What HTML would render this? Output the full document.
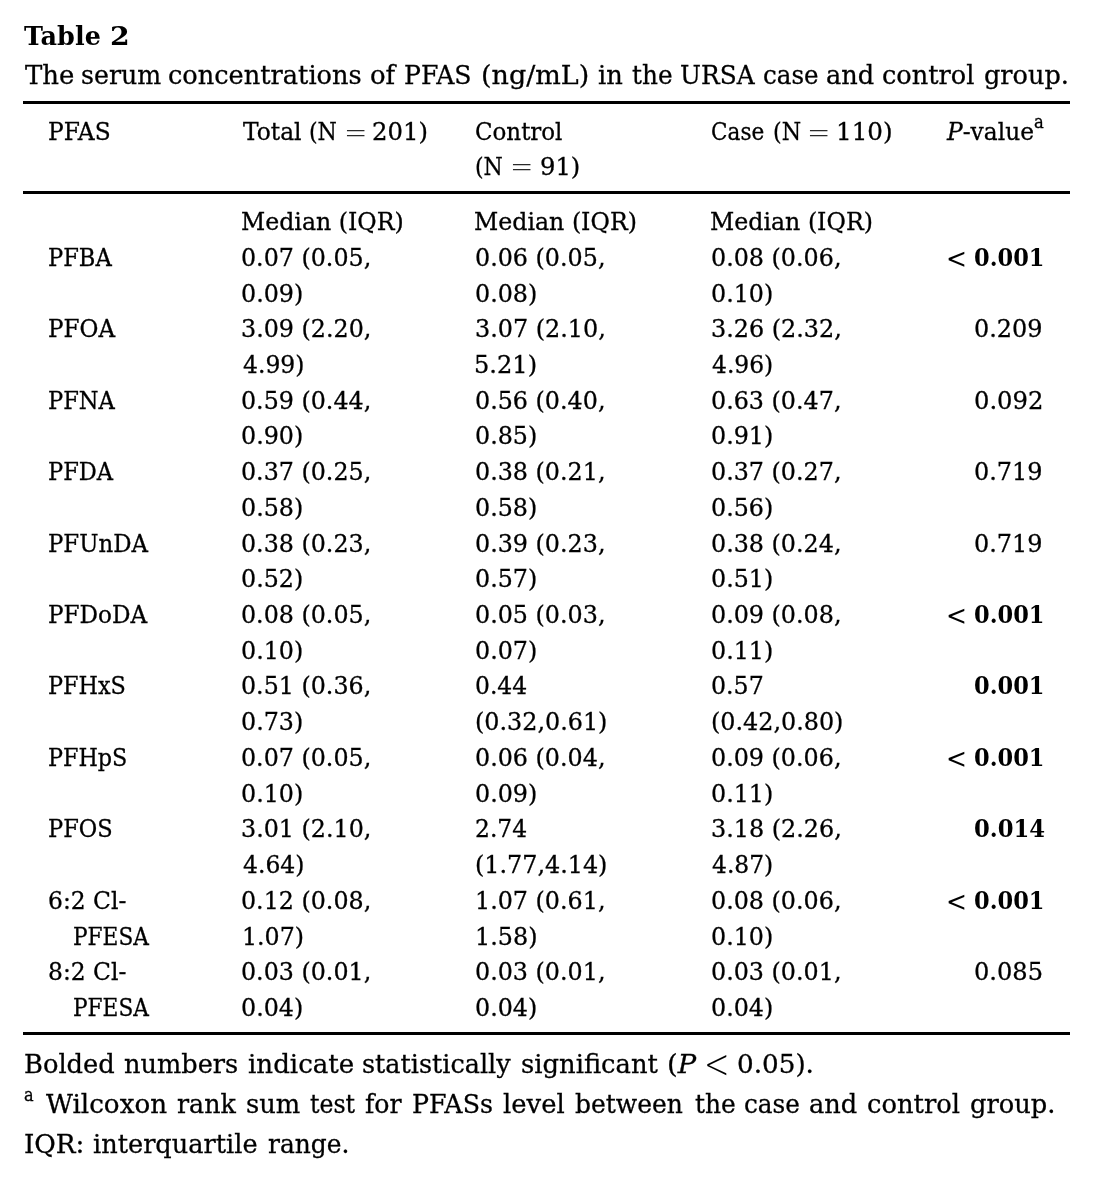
<!DOCTYPE html>
<html lang="en">
<head>
<meta charset="utf-8">
<title>Table 2</title>
<style>
html,body{margin:0;padding:0;background:#fff;}
body{width:1096px;height:1186px;position:relative;overflow:hidden;color:#000;font-family:"DejaVu Serif", "Liberation Serif", serif;}
h1,p,table,figure,figcaption{margin:0;padding:0;font:inherit;}
table{border-collapse:collapse;border-spacing:0;position:absolute;left:0;top:0;}
th,td{padding:0;font-weight:normal;}
.t{position:absolute;white-space:nowrap;line-height:1;transform-origin:0 0;font-weight:normal;font-style:normal;-webkit-text-stroke:0.3px #000;}
.t i{font-style:italic;}
.b{font-weight:bold;-webkit-text-stroke:0;}
.lt{-webkit-text-stroke:0;}
.eq{font-family:"DejaVu Sans","Liberation Sans",sans-serif;font-weight:200;-webkit-text-stroke:0;}
.eqs{color:#2a2a2a;}
.rule{position:absolute;left:23px;width:1047px;background:#000;}
</style>
</head>
<body>
<figure>
<figcaption>
<h1><span class="t b" id="t0" style="font-size:26.8px;left:24.36px;top:22.58px;transform:scaleX(0.9525);">Table</span> <span class="t b" id="t1" style="font-size:26.8px;left:110.45px;top:22.58px;transform:scaleX(1.0563);">2</span></h1>
<p><span class="t" id="t2" style="font-size:26.2px;left:24.72px;top:62.08px;transform:scaleX(0.9909);">The</span> <span class="t" id="t3" style="font-size:26.2px;left:80.69px;top:62.08px;transform:scaleX(0.9640);">serum</span> <span class="t" id="t4" style="font-size:26.2px;left:168.18px;top:62.08px;transform:scaleX(0.9782);">concentrations</span> <span class="t" id="t5" style="font-size:26.2px;left:370.30px;top:62.08px;transform:scaleX(0.9891);">of</span> <span class="t" id="t6" style="font-size:26.2px;left:404.30px;top:62.08px;transform:scaleX(0.9595);">PFAS</span> <span class="t" id="t7" style="font-size:26.2px;left:480.90px;top:62.08px;transform:scaleX(1.0298);">(ng/mL)</span> <span class="t" id="t8" style="font-size:26.2px;left:597.80px;top:62.08px;transform:scaleX(0.9835);">in</span> <span class="t" id="t9" style="font-size:26.2px;left:631.80px;top:62.08px;transform:scaleX(0.9459);">the</span> <span class="t" id="t10" style="font-size:26.2px;left:680.34px;top:62.08px;transform:scaleX(0.9487);">URSA</span> <span class="t" id="t11" style="font-size:26.2px;left:763.18px;top:62.08px;transform:scaleX(0.9372);">case</span> <span class="t" id="t12" style="font-size:26.2px;left:826.23px;top:62.08px;transform:scaleX(0.9785);">and</span> <span class="t" id="t13" style="font-size:26.2px;left:882.18px;top:62.08px;transform:scaleX(0.9771);">control</span> <span class="t" id="t14" style="font-size:26.2px;left:984.30px;top:62.08px;transform:scaleX(0.9762);">group.</span></p>
</figcaption>
<div class="rule" style="top:101px;height:3px"></div>
<table>
<thead>
<tr>
<th><span class="t" id="t15" style="font-size:24px;left:48.33px;top:120.15px;transform:scaleX(0.9716);">PFAS</span></th>
<th><span class="t" id="t16" style="font-size:24px;left:242.74px;top:120.15px;transform:scaleX(0.9726);">Total</span> <span class="t" id="t17" style="font-size:24px;left:308.79px;top:120.15px;transform:scaleX(0.9206);">(N</span> <span class="t eq eqs" id="t18" style="font-size:28px;left:344.00px;top:116.96px;transform:scale(0.9980,1.1830);">=</span> <span class="t" id="t19" style="font-size:24px;left:372.41px;top:120.15px;transform:scaleX(1.0135);">201)</span></th>
<th><span class="t" id="t20" style="font-size:24px;left:475.30px;top:120.15px;transform:scaleX(0.9556);">Control</span> <span class="t" id="t21" style="font-size:24px;left:475.41px;top:154.65px;transform:scaleX(0.9184);">(N</span> <span class="t eq eqs" id="t22" style="font-size:28px;left:510.25px;top:151.46px;transform:scale(0.9980,1.1830);">=</span> <span class="t" id="t23" style="font-size:24px;left:539.52px;top:154.65px;transform:scaleX(1.0085);">91)</span></th>
<th><span class="t" id="t24" style="font-size:24px;left:711.30px;top:120.15px;transform:scaleX(0.8998);">Case</span> <span class="t" id="t25" style="font-size:24px;left:772.60px;top:120.15px;transform:scaleX(0.9236);">(N</span> <span class="t eq eqs" id="t26" style="font-size:28px;left:807.00px;top:116.96px;transform:scale(0.9980,1.1830);">=</span> <span class="t" id="t27" style="font-size:24px;left:836.13px;top:120.15px;transform:scaleX(1.0269);">110)</span></th>
<th><span class="t" id="t28" style="font-size:24px;left:946.84px;top:120.15px;transform:scaleX(0.9720);"><i>P</i>-value</span><sup class="t" id="t29" style="font-size:18.3px;left:1034.42px;top:113.47px;transform:scaleX(0.8989);">a</sup></th>
</tr>
</thead>
<tbody>
<tr>
<td></td>
<td><span class="t" id="t30" style="font-size:24px;left:241.30px;top:210.05px;transform:scaleX(0.9856);">Median (IQR)</span></td>
<td><span class="t" id="t31" style="font-size:24px;left:474.44px;top:210.05px;transform:scaleX(0.9866);">Median (IQR)</span></td>
<td><span class="t" id="t32" style="font-size:24px;left:710.44px;top:210.05px;transform:scaleX(0.9866);">Median (IQR)</span></td>
<td></td>
</tr>
<tr>
<td><span class="t" id="t33" style="font-size:24px;left:48.33px;top:245.85px;transform:scaleX(0.9410);">PFBA</span></td>
<td><span class="t" id="t34" style="font-size:24px;left:241.12px;top:245.85px;transform:scaleX(0.9903);">0.07 (0.05,</span> <span class="t" id="t35" style="font-size:24px;left:241.12px;top:281.57px;transform:scaleX(0.9913);">0.09)</span></td>
<td><span class="t" id="t36" style="font-size:24px;left:474.91px;top:245.85px;transform:scaleX(0.9920);">0.06 (0.05,</span> <span class="t" id="t37" style="font-size:24px;left:474.92px;top:281.57px;transform:scaleX(0.9913);">0.08)</span></td>
<td><span class="t" id="t38" style="font-size:24px;left:710.91px;top:245.85px;transform:scaleX(0.9920);">0.08 (0.06,</span> <span class="t" id="t39" style="font-size:24px;left:710.92px;top:281.57px;transform:scaleX(0.9913);">0.10)</span></td>
<td><span class="t lt" id="t40" style="font-size:24px;left:945.97px;top:245.05px;transform:scale(1.0426,1.1702);">&lt;</span> <b class="t b" id="t41" style="font-size:24px;left:973.54px;top:245.85px;transform:scaleX(0.9373);">0.001</b></td>
</tr>
<tr>
<td><span class="t" id="t42" style="font-size:24px;left:48.33px;top:317.29px;transform:scaleX(0.9603);">PFOA</span></td>
<td><span class="t" id="t43" style="font-size:24px;left:241.20px;top:317.29px;transform:scaleX(0.9912);">3.09 (2.20,</span> <span class="t" id="t44" style="font-size:24px;left:242.53px;top:353.01px;transform:scaleX(0.9776);">4.99)</span></td>
<td><span class="t" id="t45" style="font-size:24px;left:474.85px;top:317.29px;transform:scaleX(0.9947);">3.07 (2.10,</span> <span class="t" id="t46" style="font-size:24px;left:474.14px;top:353.01px;transform:scaleX(1.0038);">5.21)</span></td>
<td><span class="t" id="t47" style="font-size:24px;left:710.85px;top:317.29px;transform:scaleX(0.9947);">3.26 (2.32,</span> <span class="t" id="t48" style="font-size:24px;left:711.54px;top:353.01px;transform:scaleX(0.9754);">4.96)</span></td>
<td><span class="t" id="t49" style="font-size:24px;left:973.86px;top:317.29px;transform:scaleX(0.9966);">0.209</span></td>
</tr>
<tr>
<td><span class="t" id="t50" style="font-size:24px;left:48.33px;top:388.73px;transform:scaleX(0.9407);">PFNA</span></td>
<td><span class="t" id="t51" style="font-size:24px;left:241.12px;top:388.73px;transform:scaleX(0.9903);">0.59 (0.44,</span> <span class="t" id="t52" style="font-size:24px;left:241.12px;top:424.45px;transform:scaleX(0.9913);">0.90)</span></td>
<td><span class="t" id="t53" style="font-size:24px;left:474.91px;top:388.73px;transform:scaleX(0.9920);">0.56 (0.40,</span> <span class="t" id="t54" style="font-size:24px;left:474.92px;top:424.45px;transform:scaleX(0.9913);">0.85)</span></td>
<td><span class="t" id="t55" style="font-size:24px;left:710.91px;top:388.73px;transform:scaleX(0.9920);">0.63 (0.47,</span> <span class="t" id="t56" style="font-size:24px;left:710.92px;top:424.45px;transform:scaleX(0.9913);">0.91)</span></td>
<td><span class="t" id="t57" style="font-size:24px;left:973.74px;top:388.73px;transform:scaleX(1.0093);">0.092</span></td>
</tr>
<tr>
<td><span class="t" id="t58" style="font-size:24px;left:48.33px;top:460.17px;transform:scaleX(0.9390);">PFDA</span></td>
<td><span class="t" id="t59" style="font-size:24px;left:241.12px;top:460.17px;transform:scaleX(0.9903);">0.37 (0.25,</span> <span class="t" id="t60" style="font-size:24px;left:241.12px;top:495.89px;transform:scaleX(0.9913);">0.58)</span></td>
<td><span class="t" id="t61" style="font-size:24px;left:474.91px;top:460.17px;transform:scaleX(0.9920);">0.38 (0.21,</span> <span class="t" id="t62" style="font-size:24px;left:474.92px;top:495.89px;transform:scaleX(0.9913);">0.58)</span></td>
<td><span class="t" id="t63" style="font-size:24px;left:710.91px;top:460.17px;transform:scaleX(0.9920);">0.37 (0.27,</span> <span class="t" id="t64" style="font-size:24px;left:710.92px;top:495.89px;transform:scaleX(0.9913);">0.56)</span></td>
<td><span class="t" id="t65" style="font-size:24px;left:973.86px;top:460.17px;transform:scaleX(0.9966);">0.719</span></td>
</tr>
<tr>
<td><span class="t" id="t66" style="font-size:24px;left:48.33px;top:531.61px;transform:scaleX(0.9520);">PFUnDA</span></td>
<td><span class="t" id="t67" style="font-size:24px;left:241.12px;top:531.61px;transform:scaleX(0.9903);">0.38 (0.23,</span> <span class="t" id="t68" style="font-size:24px;left:241.12px;top:567.33px;transform:scaleX(0.9913);">0.52)</span></td>
<td><span class="t" id="t69" style="font-size:24px;left:474.91px;top:531.61px;transform:scaleX(0.9920);">0.39 (0.23,</span> <span class="t" id="t70" style="font-size:24px;left:474.92px;top:567.33px;transform:scaleX(0.9913);">0.57)</span></td>
<td><span class="t" id="t71" style="font-size:24px;left:710.91px;top:531.61px;transform:scaleX(0.9920);">0.38 (0.24,</span> <span class="t" id="t72" style="font-size:24px;left:710.92px;top:567.33px;transform:scaleX(0.9913);">0.51)</span></td>
<td><span class="t" id="t73" style="font-size:24px;left:973.86px;top:531.61px;transform:scaleX(0.9966);">0.719</span></td>
</tr>
<tr>
<td><span class="t" id="t74" style="font-size:24px;left:48.33px;top:603.05px;transform:scaleX(0.9630);">PFDoDA</span></td>
<td><span class="t" id="t75" style="font-size:24px;left:241.12px;top:603.05px;transform:scaleX(0.9903);">0.08 (0.05,</span> <span class="t" id="t76" style="font-size:24px;left:241.12px;top:638.77px;transform:scaleX(0.9913);">0.10)</span></td>
<td><span class="t" id="t77" style="font-size:24px;left:474.91px;top:603.05px;transform:scaleX(0.9920);">0.05 (0.03,</span> <span class="t" id="t78" style="font-size:24px;left:474.92px;top:638.77px;transform:scaleX(0.9913);">0.07)</span></td>
<td><span class="t" id="t79" style="font-size:24px;left:710.91px;top:603.05px;transform:scaleX(0.9920);">0.09 (0.08,</span> <span class="t" id="t80" style="font-size:24px;left:710.92px;top:638.77px;transform:scaleX(0.9913);">0.11)</span></td>
<td><span class="t lt" id="t81" style="font-size:24px;left:945.97px;top:602.05px;transform:scale(1.0426,1.1702);">&lt;</span> <b class="t b" id="t82" style="font-size:24px;left:973.54px;top:603.05px;transform:scaleX(0.9373);">0.001</b></td>
</tr>
<tr>
<td><span class="t" id="t83" style="font-size:24px;left:48.33px;top:674.49px;transform:scaleX(0.9308);">PFHxS</span></td>
<td><span class="t" id="t84" style="font-size:24px;left:241.12px;top:674.49px;transform:scaleX(0.9903);">0.51 (0.36,</span> <span class="t" id="t85" style="font-size:24px;left:241.12px;top:710.21px;transform:scaleX(0.9913);">0.73)</span></td>
<td><span class="t" id="t86" style="font-size:24px;left:475.02px;top:674.49px;transform:scaleX(0.9769);">0.44</span> <span class="t" id="t87" style="font-size:24px;left:474.82px;top:710.21px;transform:scaleX(0.9936);">(0.32,0.61)</span></td>
<td><span class="t" id="t88" style="font-size:24px;left:710.92px;top:674.49px;transform:scaleX(0.9875);">0.57</span> <span class="t" id="t89" style="font-size:24px;left:710.82px;top:710.21px;transform:scaleX(0.9936);">(0.42,0.80)</span></td>
<td><b class="t b" id="t90" style="font-size:24px;left:973.54px;top:674.49px;transform:scaleX(0.9373);">0.001</b></td>
</tr>
<tr>
<td><span class="t" id="t91" style="font-size:24px;left:48.33px;top:745.93px;transform:scaleX(0.9277);">PFHpS</span></td>
<td><span class="t" id="t92" style="font-size:24px;left:241.12px;top:745.93px;transform:scaleX(0.9903);">0.07 (0.05,</span> <span class="t" id="t93" style="font-size:24px;left:241.12px;top:781.65px;transform:scaleX(0.9913);">0.10)</span></td>
<td><span class="t" id="t94" style="font-size:24px;left:474.91px;top:745.93px;transform:scaleX(0.9920);">0.06 (0.04,</span> <span class="t" id="t95" style="font-size:24px;left:474.92px;top:781.65px;transform:scaleX(0.9913);">0.09)</span></td>
<td><span class="t" id="t96" style="font-size:24px;left:710.91px;top:745.93px;transform:scaleX(0.9920);">0.09 (0.06,</span> <span class="t" id="t97" style="font-size:24px;left:710.92px;top:781.65px;transform:scaleX(0.9913);">0.11)</span></td>
<td><span class="t lt" id="t98" style="font-size:24px;left:945.97px;top:744.85px;transform:scale(1.0426,1.1702);">&lt;</span> <b class="t b" id="t99" style="font-size:24px;left:973.54px;top:745.93px;transform:scaleX(0.9373);">0.001</b></td>
</tr>
<tr>
<td><span class="t" id="t100" style="font-size:24px;left:48.33px;top:817.37px;transform:scaleX(0.9381);">PFOS</span></td>
<td><span class="t" id="t101" style="font-size:24px;left:241.20px;top:817.37px;transform:scaleX(0.9912);">3.01 (2.10,</span> <span class="t" id="t102" style="font-size:24px;left:242.53px;top:853.09px;transform:scaleX(0.9776);">4.64)</span></td>
<td><span class="t" id="t103" style="font-size:24px;left:475.29px;top:817.37px;transform:scaleX(0.9745);">2.74</span> <span class="t" id="t104" style="font-size:24px;left:474.82px;top:853.09px;transform:scaleX(0.9936);">(1.77,4.14)</span></td>
<td><span class="t" id="t105" style="font-size:24px;left:710.85px;top:817.37px;transform:scaleX(0.9947);">3.18 (2.26,</span> <span class="t" id="t106" style="font-size:24px;left:711.54px;top:853.09px;transform:scaleX(0.9754);">4.87)</span></td>
<td><b class="t b" id="t107" style="font-size:24px;left:973.54px;top:817.37px;transform:scaleX(0.9466);">0.014</b></td>
</tr>
<tr>
<td><span class="t" id="t108" style="font-size:24px;left:48.28px;top:888.81px;transform:scaleX(0.9746);">6:2 Cl-</span><span class="t" id="t109" style="font-size:24px;left:73.24px;top:924.53px;transform:scaleX(0.9024);">PFESA</span></td>
<td><span class="t" id="t110" style="font-size:24px;left:241.12px;top:888.81px;transform:scaleX(0.9903);">0.12 (0.08,</span> <span class="t" id="t111" style="font-size:24px;left:241.68px;top:924.53px;transform:scaleX(0.9878);">1.07)</span></td>
<td><span class="t" id="t112" style="font-size:24px;left:475.18px;top:888.81px;transform:scaleX(0.9920);">1.07 (0.61,</span> <span class="t" id="t113" style="font-size:24px;left:475.30px;top:924.53px;transform:scaleX(0.9948);">1.58)</span></td>
<td><span class="t" id="t114" style="font-size:24px;left:710.91px;top:888.81px;transform:scaleX(0.9920);">0.08 (0.06,</span> <span class="t" id="t115" style="font-size:24px;left:710.92px;top:924.53px;transform:scaleX(0.9913);">0.10)</span></td>
<td><span class="t lt" id="t116" style="font-size:24px;left:945.97px;top:887.65px;transform:scale(1.0426,1.1702);">&lt;</span> <b class="t b" id="t117" style="font-size:24px;left:973.54px;top:888.81px;transform:scaleX(0.9373);">0.001</b></td>
</tr>
<tr>
<td><span class="t" id="t118" style="font-size:24px;left:48.33px;top:960.25px;transform:scaleX(0.9748);">8:2 Cl-</span><span class="t" id="t119" style="font-size:24px;left:73.24px;top:995.97px;transform:scaleX(0.9024);">PFESA</span></td>
<td><span class="t" id="t120" style="font-size:24px;left:241.12px;top:960.25px;transform:scaleX(0.9903);">0.03 (0.01,</span> <span class="t" id="t121" style="font-size:24px;left:241.12px;top:995.97px;transform:scaleX(0.9913);">0.04)</span></td>
<td><span class="t" id="t122" style="font-size:24px;left:474.91px;top:960.25px;transform:scaleX(0.9920);">0.03 (0.01,</span> <span class="t" id="t123" style="font-size:24px;left:474.92px;top:995.97px;transform:scaleX(0.9913);">0.04)</span></td>
<td><span class="t" id="t124" style="font-size:24px;left:710.91px;top:960.25px;transform:scaleX(0.9920);">0.03 (0.01,</span> <span class="t" id="t125" style="font-size:24px;left:710.92px;top:995.97px;transform:scaleX(0.9913);">0.04)</span></td>
<td><span class="t" id="t126" style="font-size:24px;left:973.80px;top:960.25px;transform:scaleX(1.0047);">0.085</span></td>
</tr>
</tbody>
</table>
<div class="rule" style="top:191px;height:3px"></div>
<div class="rule" style="top:1032px;height:3px"></div>
<p><span class="t" id="t127" style="font-size:26.2px;left:23.66px;top:1051.18px;transform:scaleX(0.9821);">Bolded</span> <span class="t" id="t128" style="font-size:26.2px;left:124.29px;top:1051.18px;transform:scaleX(0.9780);">numbers</span> <span class="t" id="t129" style="font-size:26.2px;left:247.78px;top:1051.18px;transform:scaleX(0.9963);">indicate</span> <span class="t" id="t130" style="font-size:26.2px;left:361.69px;top:1051.18px;transform:scaleX(0.9735);">statistically</span> <span class="t" id="t131" style="font-size:26.2px;left:521.30px;top:1051.18px;transform:scaleX(0.9855);">significant</span> <span class="t" id="t132" style="font-size:26.2px;left:666.91px;top:1051.18px;transform:scaleX(1.0471);">(<i>P</i></span> <span class="t eq" id="t133" style="font-size:30px;left:704.20px;top:1044.91px;transform:scale(1.0159,1.3373);">&lt;</span> <span class="t" id="t134" style="font-size:26.2px;left:736.70px;top:1051.18px;transform:scaleX(1.0014);">0.05).</span></p>
<p><sup class="t" id="t135" style="font-size:18.3px;left:23.87px;top:1085.97px;transform:scaleX(0.8848);">a</sup> <span class="t" id="t136" style="font-size:26.2px;left:46.00px;top:1091.18px;">Wilcoxon</span> <span class="t" id="t137" style="font-size:26.2px;left:176.99px;top:1091.18px;transform:scaleX(0.9667);">rank</span> <span class="t" id="t138" style="font-size:26.2px;left:245.60px;top:1091.18px;transform:scaleX(0.9839);">sum</span> <span class="t" id="t139" style="font-size:26.2px;left:309.97px;top:1091.18px;transform:scaleX(0.9022);">test</span> <span class="t" id="t140" style="font-size:26.2px;left:365.06px;top:1091.18px;transform:scaleX(0.9640);">for</span> <span class="t" id="t141" style="font-size:26.2px;left:412.30px;top:1091.18px;transform:scaleX(0.9660);">PFASs</span> <span class="t" id="t142" style="font-size:26.2px;left:502.62px;top:1091.18px;transform:scaleX(0.9868);">level</span> <span class="t" id="t143" style="font-size:26.2px;left:574.73px;top:1091.18px;transform:scaleX(0.9541);">between</span> <span class="t" id="t144" style="font-size:26.2px;left:694.76px;top:1091.18px;transform:scaleX(0.9519);">the</span> <span class="t" id="t145" style="font-size:26.2px;left:744.18px;top:1091.18px;transform:scaleX(0.9434);">case</span> <span class="t" id="t146" style="font-size:26.2px;left:809.30px;top:1091.18px;transform:scaleX(0.9792);">and</span> <span class="t" id="t147" style="font-size:26.2px;left:867.30px;top:1091.18px;transform:scaleX(0.9846);">control</span> <span class="t" id="t148" style="font-size:26.2px;left:969.97px;top:1091.18px;transform:scaleX(0.9824);">group.</span></p>
<p><span class="t" id="t149" style="font-size:26.2px;left:23.66px;top:1131.18px;transform:scaleX(1.0017);">IQR:</span> <span class="t" id="t150" style="font-size:26.2px;left:93.19px;top:1131.18px;transform:scaleX(0.9779);">interquartile</span> <span class="t" id="t151" style="font-size:26.2px;left:267.63px;top:1131.18px;transform:scaleX(0.9511);">range.</span></p>
</figure>
</body>
</html>
